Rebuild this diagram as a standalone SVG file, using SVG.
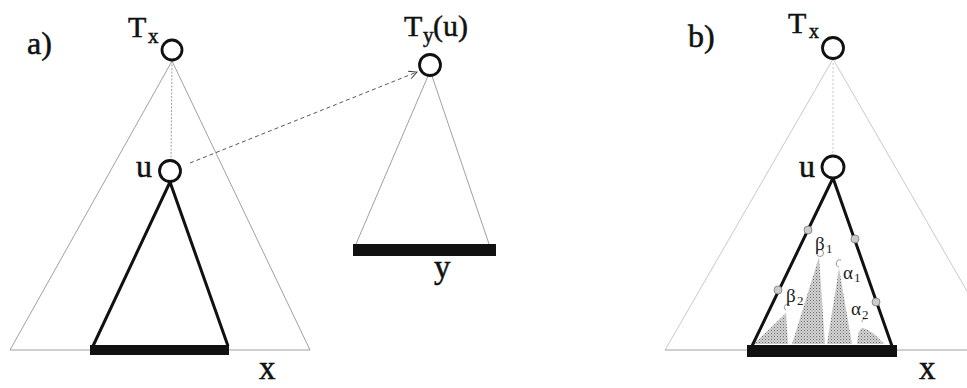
<svg xmlns="http://www.w3.org/2000/svg" width="967" height="388" viewBox="0 0 967 388">
<defs>
<style>
.lbl{font-family:"Liberation Serif","Times New Roman",serif;fill:#111;stroke:#111;stroke-width:0.5}
.gk{font-family:"Liberation Serif","Times New Roman",serif;fill:#222}
.node{fill:#fff;stroke:#111;stroke-width:2.8}
.thin{stroke:#888;stroke-width:0.8;fill:none}
.faint{stroke:#bbb;stroke-width:0.8;fill:none}
.thick{stroke:#111;stroke-width:3;fill:none;stroke-linejoin:miter}
.bar{fill:#111}
.dot{fill:#ccc;stroke:#777;stroke-width:0.8}
.shade{fill:url(#stip)}
.mark{fill:#fff;stroke:#777;stroke-width:0.8}
</style>
<pattern id="stip" width="3" height="3" patternUnits="userSpaceOnUse">
<rect width="3" height="3" fill="#d4d4d4"/>
<rect width="1" height="1" fill="#666"/>
<rect x="1.5" y="1.5" width="1" height="1" fill="#888"/>
</pattern>
<marker id="arr" markerWidth="10" markerHeight="10" refX="9" refY="5" orient="auto" markerUnits="userSpaceOnUse">
<path d="M1,1 L9,5 L1,9" fill="none" stroke="#333" stroke-width="0.9"/>
</marker>
</defs>

<!-- panel a -->
<text class="lbl" x="27" y="54" font-size="32">a)</text>

<g id="connectors">
<line class="thin" x1="172" y1="61" x2="10" y2="350"/>
<line class="thin" x1="172" y1="61" x2="310" y2="350"/>
<line class="thin" x1="10" y1="350" x2="310" y2="350"/>
<line class="thin" x1="172" y1="61" x2="171" y2="160" stroke-dasharray="2,1.5"/>
<line x1="190" y1="163" x2="417" y2="72" stroke="#444" stroke-width="0.9" stroke-dasharray="4,3" marker-end="url(#arr)"/>
<line class="thin" x1="428" y1="76" x2="356" y2="244"/>
<line class="thin" x1="432" y1="76" x2="489" y2="244"/>
<line class="faint" x1="833" y1="59" x2="665" y2="350"/>
<line class="faint" x1="833" y1="59" x2="1001" y2="350"/>
<line class="faint" x1="833" y1="59" x2="833" y2="156" stroke-dasharray="2,2"/>
<line class="thin" x1="665" y1="350" x2="967" y2="350"/>
</g>

<g id="subtree-u-a">
<polyline class="thick" points="93,346 170,182 228,346"/>
<rect class="bar" x="90" y="345" width="139" height="10"/>
<text class="lbl" x="259" y="379" font-size="33">x</text>
</g>

<g id="node-Tx-a">
<circle class="node" cx="172" cy="50" r="10"/>
<text class="lbl" x="128" y="37" font-size="30">T</text>
<text class="lbl" x="148" y="43" font-size="21">x</text>
</g>

<g id="node-u-a">
<circle class="node" cx="170" cy="171" r="10.5"/>
<text class="lbl" x="136" y="177" font-size="32">u</text>
</g>

<g id="node-Ty">
<circle class="node" cx="430" cy="65" r="10.5"/>
<text class="lbl" x="404" y="36" font-size="30">T</text>
<text class="lbl" x="423" y="42" font-size="21">y</text>
<text class="lbl" x="433" y="36" font-size="30">(u)</text>
<rect class="bar" x="353" y="244" width="143" height="12"/>
<text class="lbl" x="434" y="278" font-size="33">y</text>
</g>

<!-- panel b -->
<text class="lbl" x="688" y="47" font-size="32">b)</text>

<g id="subtree-u-b">
<path class="shade" d="M754,344 L786,313 L788,344 Z"/>
<path class="shade" d="M792,344 L819,257 L825,344 Z"/>
<path class="shade" d="M827,344 L839,268 L852,344 Z"/>
<path class="shade" d="M857,344 Q858,328 863,328 Q872,330 884,344 Z"/>
<polyline class="thick" points="752,346 833,178 892,346"/>
<rect class="bar" x="747" y="345" width="150" height="12"/>
<circle class="dot" cx="808" cy="230" r="4"/>
<circle class="dot" cx="778" cy="290" r="4"/>
<circle class="dot" cx="855" cy="239" r="4"/>
<circle class="dot" cx="876" cy="302" r="4"/>
<circle class="mark" cx="820" cy="253" r="3.5"/>
<path class="mark" d="M790,306 a3,3 0 1 0 -4,4" fill="none"/>
<path class="mark" d="M841,260 a3.5,3.5 0 0 0 -2,7" fill="none"/>
<path class="mark" d="M866,319 a3,3 0 0 0 -4,3" fill="none"/>
<text class="gk" x="815" y="250" font-size="19">β</text>
<text class="gk" x="826" y="253" font-size="13">1</text>
<text class="gk" x="786" y="302" font-size="19">β</text>
<text class="gk" x="797" y="305" font-size="13">2</text>
<text class="gk" x="843" y="279" font-size="19">α</text>
<text class="gk" x="854" y="282" font-size="13">1</text>
<text class="gk" x="851" y="315" font-size="19">α</text>
<text class="gk" x="862" y="319" font-size="13">2</text>
<text class="lbl" x="919" y="379" font-size="33">x</text>
</g>

<g id="node-Tx-b">
<circle class="node" cx="833" cy="48" r="10.5"/>
<text class="lbl" x="788" y="33" font-size="30">T</text>
<text class="lbl" x="809" y="38" font-size="20">x</text>
</g>

<g id="node-u-b">
<circle class="node" cx="833" cy="167" r="11"/>
<text class="lbl" x="799" y="177" font-size="32">u</text>
</g>
</svg>
